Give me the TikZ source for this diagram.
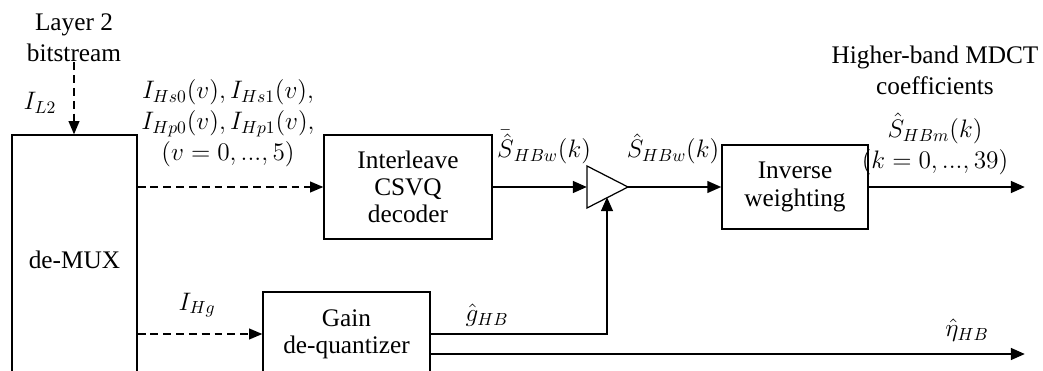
\documentclass[tikz,border=0pt]{standalone}
\usepackage{fontspec}
\setmainfont{Liberation Serif}
\usetikzlibrary{arrows.meta,calc}

\begin{document}
\begin{tikzpicture}[x=0.02cm,y=-0.02cm,
  font=\fontsize{14.4}{17.6}\selectfont,
  blk/.style={draw,line width=0.7pt,align=center,inner sep=0pt,
    font=\fontsize{14.4}{15.5}\selectfont},
  sig/.style={line width=1.6pt,-{Triangle[length=8pt,width=6.5pt]}},
  bits/.style={line width=1.1pt,dash pattern=on 4.5pt off 2.8pt,
    -{Triangle[length=7.5pt,width=6pt]}},
  lbl/.style={inner sep=0pt,align=center}]
  \useasboundingbox (0,0) rectangle (1043,371);
  \clip (0,0) rectangle (1043,371);
  % blocks
  \node[blk,minimum width=2.5cm,minimum height=5cm] (demux) at (74.5,260) {de-MUX};
  \node[blk,minimum width=3.36cm,minimum height=2.08cm] (csvq) at (408,187) {Interleave\\CSVQ\\decoder};
  \node[blk,minimum width=2.92cm,minimum height=1.68cm] (invw) at (795,187) {Inverse\\weighting};
  \node[blk,minimum width=3.34cm,minimum height=1.68cm] (gain) at (346.5,334) {Gain\\de-quantizer};
  % gain stage
  \coordinate (amptop) at (587,166);
  \coordinate (ampbase) at (587,208);
  \coordinate (ampin) at (587,187);
  \coordinate (ampout) at (628,187);
  \coordinate (ampbot) at (607,197);
  \draw[line width=0.7pt] (amptop) -- (ampout) -- (ampbase) -- cycle;
  \coordinate (mdct) at (1025,187);
  \coordinate (etaend) at (1025,354);
  % labels
  \node[lbl] (layer) at (74,38) {Layer 2\\bitstream};
  \node[lbl] (il2) at (40,103) {$I_{L2}$};
  \node[lbl] (idx) at (228,123) {$I_{Hs0}(v),I_{Hs1}(v),$\\$I_{Hp0}(v),I_{Hp1}(v),$\\$(v=0,...,5)$};
  \node[lbl] (ihg) at (197,305) {$I_{Hg}$};
  \node[lbl] (sbar) at (544,147) {$\bar{\hat{S}}_{HBw}(k)$};
  \node[lbl] (shat) at (673,149) {$\hat{S}_{HBw}(k)$};
  \node[lbl] (ghat) at (487,315) {$\hat{g}_{HB}$};
  \node[lbl] (outtxt) at (935,70) {Higher-band MDCT\\coefficients};
  \node[lbl] (shbm) at (935,144) {$\hat{S}_{HBm}(k)$\\$(k=0,...,39)$};
  \node[lbl] (eta) at (967,330) {$\hat{\eta}_{HB}$};
  % connectors
  \draw[bits] (layer) -- (layer |- demux.north);
  \draw[bits] (demux.east |- csvq.west) -- (csvq.west);
  \draw[bits] (demux.east |- gain.west) -- (gain.west);
  \draw[sig] (csvq.east) -- (ampin);
  \draw[sig] (ampout) -- (invw.west);
  \draw[sig] (invw.east) -- (mdct);
  \draw[sig] (gain.east) -| (ampbot);
  \draw[sig] ($(gain.east)+(0,20)$) -- (etaend);
\end{tikzpicture}
\end{document}
